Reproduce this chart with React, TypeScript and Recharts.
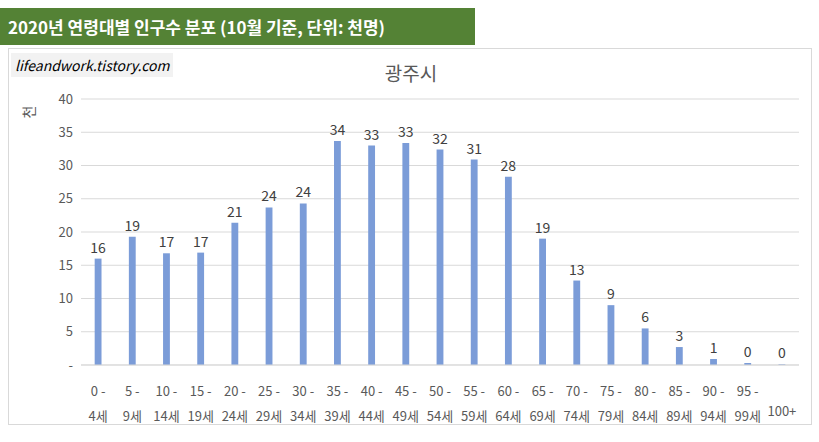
import { Bar, BarChart, CartesianGrid, LabelList, XAxis, YAxis } from "recharts";

const GROUPS = ["0 -|4세", "5 -|9세", "10 -|14세", "15 -|19세", "20 -|24세", "25 -|29세", "30 -|34세", "35 -|39세", "40 -|44세", "45 -|49세", "50 -|54세", "55 -|59세", "60 -|64세", "65 -|69세", "70 -|74세", "75 -|79세", "80 -|84세", "85 -|89세", "90 -|94세", "95 -|99세", "100+"];
const POPULATION = [16.0, 19.3, 16.8, 16.9, 21.4, 23.7, 24.3, 33.7, 33.0, 33.4, 32.4, 30.9, 28.3, 19.0, 12.7, 9.0, 5.5, 2.7, 0.9, 0.3, 0.1];
const Y_TICKS = [0, 5, 10, 15, 20, 25, 30, 35, 40];

const BAR = "#7b9cd8";
const GRID = "#d9d9d9";
const INK = "#595959";
const FONT = "'Malgun Gothic', 'Noto Sans CJK KR', sans-serif";

const data = GROUPS.map((g, i) => ({ group: g, value: POPULATION[i] }));

function GroupTick({ x, y, payload }: any) {
  const parts = String(payload.value).split("|");
  if (parts.length === 1) {
    return <text x={x} y={y + 43} textAnchor="middle" fill={INK} fontSize={13} fontFamily={FONT}>{parts[0]}</text>;
  }
  return (
    <g>
      <text x={x} y={y + 23} textAnchor="middle" fill={INK} fontSize={13} fontFamily={FONT}>{parts[0]}</text>
      <text x={x} y={y + 48} textAnchor="middle" fill={INK} fontSize={13} fontFamily={FONT}>{parts[1]}</text>
    </g>
  );
}

export default function App() {
  return (
    <div style={{ position: "fixed", left: 0, top: 0, width: 819, height: 442, background: "#fff", fontFamily: FONT }}>
      <div style={{ position: "absolute", left: 0, top: 8, width: 475, height: 37, background: "#548235", color: "#fff", fontWeight: "bold", fontSize: 17, lineHeight: "37px", paddingLeft: 8, boxSizing: "border-box" }}>
        2020년 연령대별 인구수 분포 (10월 기준, 단위: 천명)
      </div>
      <div style={{ position: "absolute", left: 8, top: 48, width: 804, height: 377, border: `1px solid ${GRID}`, boxSizing: "border-box" }}>
        <div style={{ position: "absolute", left: 2, top: 4, width: 162, height: 24, background: "#f2f2f2", fontStyle: "italic", fontSize: 14, lineHeight: "24px", paddingLeft: 4, boxSizing: "border-box", color: "#000" }}>
          lifeandwork.tistory.com
        </div>
        <div style={{ position: "absolute", left: 0, width: 804, top: 10, textAlign: "center", fontSize: 19, color: INK }}>광주시</div>
        <svg style={{ position: "absolute", left: 8, top: 48 }} width={24} height={30}>
          <text x={0} y={0} transform="translate(17,15) rotate(-90)" textAnchor="middle" fill={INK} fontSize={14} fontFamily={FONT}>천</text>
        </svg>
        <BarChart width={802} height={375} data={data} margin={{ top: 50, right: 12, left: 0, bottom: 0 }} barCategoryGap="60%">
          <CartesianGrid stroke={GRID} vertical={false} />
          <XAxis dataKey="group" interval={0} height={59} tick={<GroupTick />} tickLine={false} axisLine={{ stroke: GRID }} />
          <YAxis width={72} domain={[0, 40]} ticks={Y_TICKS} tickLine={false} axisLine={false} tick={{ fill: INK, fontSize: 13, fontFamily: FONT }} tickFormatter={(v) => (v === 0 ? "-" : String(v))} />
          <Bar dataKey="value" fill={BAR} isAnimationActive={false}>
            <LabelList dataKey="value" position="top" offset={6} fill="#404040" fontSize={14} fontFamily={FONT} formatter={(v: any) => Math.round(Number(v))} />
          </Bar>
        </BarChart>
      </div>
    </div>
  );
}
